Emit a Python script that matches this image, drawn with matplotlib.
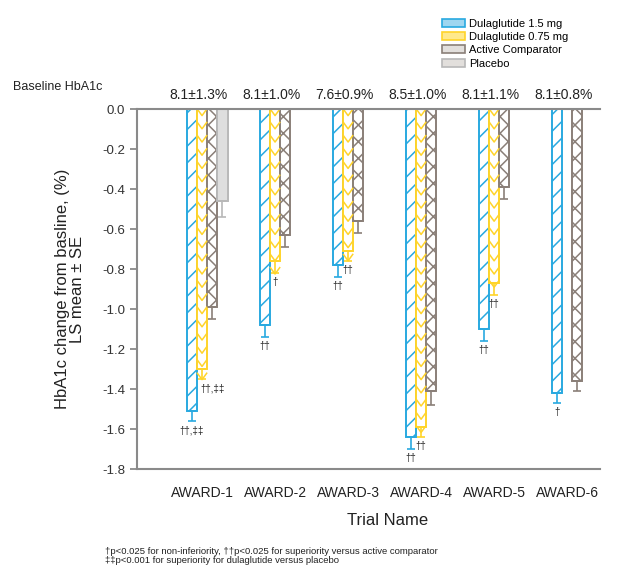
import numpy as np
import matplotlib
matplotlib.use('Agg')
import matplotlib.pyplot as plt
import matplotlib.transforms as mtransforms
from matplotlib.patches import Patch
from matplotlib.collections import LineCollection

plt.rcParams['font.family'] = ['Liberation Sans', 'DejaVu Sans']
plt.rcParams['axes.unicode_minus'] = False
plt.rcParams['hatch.linewidth'] = 1.1

nan = np.nan
trials = ['AWARD-1', 'AWARD-2', 'AWARD-3', 'AWARD-4', 'AWARD-5', 'AWARD-6']
baseline = ['8.1±1.3%', '8.1±1.0%', '7.6±0.9%', '8.5±1.0%', '8.1±1.1%', '8.1±0.8%']

dula_15 = [-1.51, -1.08, -0.78, -1.64, -1.10, -1.42]
dula_15_se = [0.05, 0.06, 0.06, 0.06, 0.06, 0.05]
dula_15_sig = ['††,‡‡', '††', '††', '††', '††', '†']

dula_075 = [-1.30, -0.76, -0.71, -1.59, -0.87, nan]
dula_075_se = [0.05, 0.06, 0.05, 0.05, 0.06, nan]
dula_075_sig = ['††,‡‡', '†', '††', '††', '††', '']

active = [-0.99, -0.63, -0.56, -1.41, -0.39, -1.36]
active_se = [0.06, 0.06, 0.06, 0.07, 0.06, 0.05]

placebo = [-0.46, nan, nan, nan, nan, nan]
placebo_se = [0.08, nan, nan, nan, nan, nan]

labels = ['Dulaglutide 1.5 mg', 'Dulaglutide 0.75 mg', 'Active Comparator', 'Placebo']

# style per series: edge, face, hatch, legend face
styles = [
    ('#29a9e0', 'white', '//', '#9fd6f0'),
    ('#ffd42a', 'white', None, '#ffe98c'),
    ('#8a7f78', 'white', 'xx', '#e2dfdc'),
    ('#b8b8b8', '#dedede', None, '#e2dfdc'),
]
values = [dula_15, dula_075, active, placebo]
errors = [dula_15_se, dula_075_se, active_se, placebo_se]
sigs = [dula_15_sig, dula_075_sig, None, None]

fig = plt.figure(figsize=(6.3, 5.69), dpi=100)
ax = fig.add_axes([0.2175, 0.1757, 0.7349, 0.6327])

x = np.arange(len(trials))
w = 0.14
period, depth = 0.066, 0.035

for k in range(4):
    edge, face, hatch, _ = styles[k]
    vals = np.array(values[k], dtype=float)
    errs = np.array(errors[k], dtype=float)
    ok = np.isfinite(vals)
    pos = x[ok] + (k - 1) * w
    bars = ax.bar(pos, vals[ok], w, facecolor=face, edgecolor=edge,
                  hatch=hatch, linewidth=1.4, zorder=2)
    ax.errorbar(pos, vals[ok], yerr=[errs[ok], np.zeros(ok.sum())], fmt='none',
                ecolor=edge, elinewidth=1.2, capsize=3, capthick=1.2, zorder=3)
    if k == 1:
        # chevron fill for the 0.75 mg bars
        for r in bars:
            x0, x1 = r.get_x(), r.get_x() + r.get_width()
            xc = (x0 + x1) / 2
            ys = np.arange(-period / 2, r.get_height() - period, -period)
            segs = [[(x0, y + depth), (xc, y), (x1, y + depth)] for y in ys]
            lc = LineCollection(segs, colors=edge, linewidths=1.1, zorder=2.5)
            lc.set_clip_path(r)
            ax.add_collection(lc)
    if sigs[k] is not None:
        for i in np.where(ok)[0]:
            dx = 0.15 if (k == 1 and i == 0) else 0.0
            ax.annotate(sigs[k][i], (x[i] + (k - 1) * w + dx, vals[i] - errs[i]),
                        xytext=(0, -3), textcoords='offset points',
                        ha='center', va='top', fontsize=7, color='#222222')

ticks = np.round(np.arange(-1.8, 0.01, 0.2), 1)
ax.set_xlim(-0.89, 5.45)
ax.set_ylim(-1.8, 0)
ax.set_yticks(ticks)
ax.set_yticklabels(['%.1f' % (v if v != 0 else 0.0) for v in ticks])
ax.set_xticks(x)
ax.set_xticklabels(trials)
ax.tick_params(axis='x', length=0, pad=12, labelsize=10, labelcolor='#222222')
ax.tick_params(axis='y', direction='out', length=5, width=1.3, color='#8a8a8a',
               labelsize=9.5, labelcolor='#333333')
for s in ['left', 'bottom', 'top']:
    ax.spines[s].set_color('#8a8a8a')
    ax.spines[s].set_linewidth(1.5)
ax.spines['right'].set_visible(False)

ax.set_ylabel('HbA1c change from basline, (%)\nLS mean ± SE', fontsize=12,
              color='#222222', linespacing=1.05)
ax.yaxis.set_label_coords(-0.112, 0.5)
ax.set_xlabel('Trial Name', fontsize=12, color='#222222')
ax.xaxis.set_label_coords(0.542, -0.122)

trans = mtransforms.blended_transform_factory(ax.transData, ax.transAxes)
for i, b in enumerate(baseline):
    ax.text(x[i] - 0.05, 1.039, b, transform=trans, ha='center', va='center',
            fontsize=10, color='#222222')
fig.text(13 / 630, 1 - 87 / 569, 'Baseline HbA1c', ha='left', va='center',
         fontsize=9, color='#222222')

handles = [Patch(facecolor=s[3], edgecolor=s[0], linewidth=1.2) for s in styles]
fig.legend(handles, labels, loc='upper left', bbox_to_anchor=(436 / 630, 1 - 13 / 569),
           frameon=False, fontsize=8, handlelength=2.1, handleheight=0.75,
           labelspacing=0.3, handletextpad=0.4, borderpad=0)

fig.text(105 / 630, 1 - 547 / 569,
         '†p<0.025 for non-inferiority, ††p<0.025 for superiority versus active comparator\n'
         '‡‡p<0.001 for superiority for dulaglutide versus placebo',
         ha='left', va='top', fontsize=6.8, color='#222222', linespacing=1.0)

fig.savefig('out.png', dpi=100)
